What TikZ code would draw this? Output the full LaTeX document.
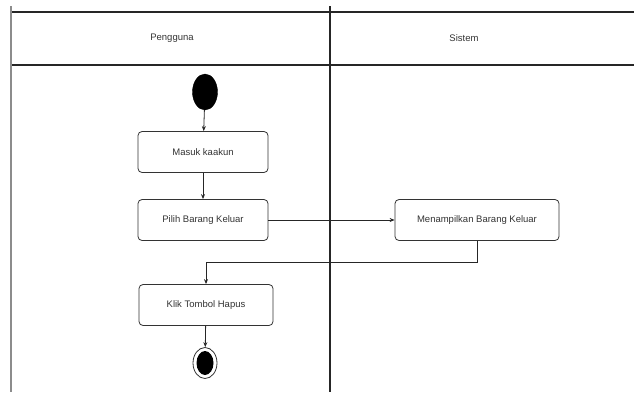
\documentclass[tikz,border=0pt]{standalone}
\usepackage{fontspec}
\setmainfont{Liberation Sans}
\usepackage{tikz}
\usetikzlibrary{arrows.meta,shapes.geometric}

\tikzset{
  lane/.style={line width=1.2pt, black!85},
  aksi/.style={draw=black!80, line width=0.8pt, rounded corners=4pt, fill=white, minimum height=41pt, font=\fontsize{9.5}{11}\selectfont, text=black!80},
  alur/.style={line width=0.8pt, black!85, -{Stealth[length=5pt,width=4pt]}},
  judul/.style={font=\fontsize{9.5}{11}\selectfont, text=black!80}
}

\begin{document}
\begin{tikzpicture}[x=1pt,y=-1pt]
\useasboundingbox (0,0) rectangle (634,392);
% swimlane
\draw[lane](11,12) -- (634,12);
\draw[lane](11,65) -- (634,65);
\draw[line width=1.2pt, black!45](11,6) -- (11,392);
\draw[lane](330,6) -- (330,392);
\node[judul] (Pengguna) at (172,38) {Pengguna};
\node[judul] (Sistem) at (464,38) {Sistem};
% aktivitas
\node[draw, fill=black, ellipse, minimum width=25pt, minimum height=36pt, inner sep=0pt] (Mulai) at (205,92) {};
\node[aksi, minimum width=130pt] (Masuk) at (203,152) {Masuk kaakun};
\node[aksi, minimum width=130pt] (Pilih) at (203,220) {Pilih Barang Keluar};
\node[aksi, minimum width=164pt] (Tampil) at (477,220) {Menampilkan Barang Keluar};
\node[aksi, minimum width=134pt] (Klik) at (206,305) {Klik Tombol Hapus};
\node[draw=black!80, line width=0.8pt, fill=white, ellipse, minimum width=24pt, minimum height=31pt, inner sep=0pt] (Selesai) at (205,363) {};
\node[fill=black, ellipse, minimum width=17pt, minimum height=24pt, inner sep=0pt] (SelesaiIsi) at (205,363) {};
\coordinate (Belok) at (477,262);
% alur
\draw[alur] (Mulai) -- (Masuk);
\draw[alur] (Masuk) -- (Pilih);
\draw[alur] (Pilih) -- (Tampil);
\draw[alur] (Tampil.south) -- (Belok) -| (Klik.north);
\draw[alur] (Klik) -- (Selesai);
\end{tikzpicture}
\end{document}
